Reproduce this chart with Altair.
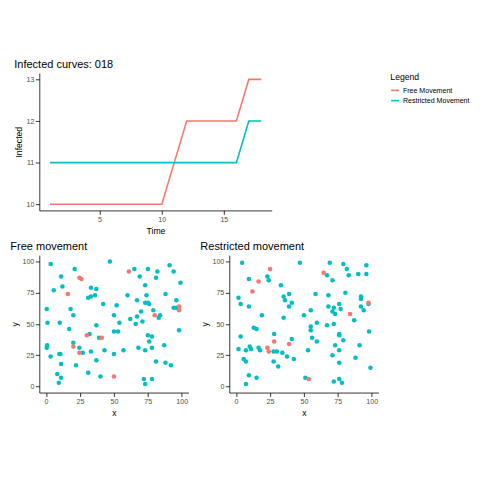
import altair as alt
import pandas as pd

# infected curves
time = list(range(1, 19))
free_infected = [10] * 10 + [11] + [12] * 5 + [13, 13]
restricted_infected = [11] * 16 + [12, 12]

# free movement scatter
free_x = [3.3, 0.4, 1, 0.7, 0.4, 3.3, 5.6, 11, 12, 10, 9.7, 10.5, 11, 8.2, 9.3, 11, 21, 17, 18, 20, 20, 24.5, 27, 22,
          31, 33, 36, 33, 37, 37, 39, 32, 33, 37, 31, 40, 42, 43, 47, 50, 50, 52, 53, 54, 50, 57, 60, 62, 65, 66, 67,
          67, 69, 70, 71, 68, 73, 74, 73, 75, 76, 75, 75, 76, 78, 78, 79, 73, 72, 73, 78, 81, 82, 83, 84, 81, 88, 87,
          88, 92, 91, 94, 94, 96, 96, 98, 99,
          16, 24.5, 26, 20, 24.5, 30, 41, 50, 61, 80, 98, 98]
free_y = [98, 62, 51, 33, 31, 24, 77, 88, 80, 51, 26, 26, 18, 10, 3, 7, 94, 46, 62, 57, 35, 31, 27, 17,
          71, 72, 73, 79, 78, 49, 39, 42, 28, 21, 11, 8, 66, 29, 100, 57, 44, 65, 44, 51, 26, 29, 73, 54, 94, 50, 56,
          69, 88, 60, 52, 31, 81, 73, 67, 67, 66, 94, 41, 36, 40, 31, 61, 29, 6, 2, 6, 87, 92, 55, 57, 20, 74, 33,
          19, 17, 97, 92, 63, 69, 63, 45, 83,
          74, 87, 86, 32, 27, 41, 39, 8, 92, 57, 64, 61]
free_status = ["Restricted Movement"] * 87 + ["Free Movement"] * 12

# restricted movement scatter
res_x = [4.4, 1.7, 3.3, 3.3, 1.7, 9.4, 9.4, 5.5, 7.2, 7.2, 10, 11, 9.4, 7.2, 13, 15, 16.5, 17.6, 15, 19, 23, 24,
         28, 27.6, 30, 27.6, 31, 33, 35, 36, 35, 34, 37.5, 39, 39, 41, 41, 42.5, 47, 50, 51, 53, 55, 55, 55, 56,
         58.5, 59.5, 59.5, 67, 68, 68, 67, 69, 71, 71, 72, 72, 73, 73, 71, 72, 76, 76, 76, 76, 76, 76, 77, 78, 79,
         79, 80.5, 81.6, 83, 87, 88, 90, 91, 92, 92, 92, 94, 96, 96, 97.6, 98, 99,
         12, 16.5, 25, 23, 24, 28, 39, 53.5, 64.5, 84, 97.6]
res_y = [99, 71, 66, 40, 30, 86, 64, 22, 20, 29, 32, 30, 9, 2, 47, 46, 31, 29, 7, 57, 88, 85,
         42, 28, 28, 20, 16, 81, 72, 69, 55, 27, 24, 74, 64, 67, 38, 22, 99, 57, 7, 29, 61, 45, 48, 39,
         74, 51, 36, 89, 73, 64, 49, 99, 85, 60, 63, 50, 58, 33, 25, 4, 66, 41, 42, 29, 19, 6, 62, 3, 98,
         37, 75, 94, 89, 53, 23, 90, 33, 72, 70, 64, 61, 97, 90, 66, 44, 15,
         76, 84, 94, 31, 28, 36, 34, 6, 91, 58, 67]
res_status = ["Restricted Movement"] * 88 + ["Free Movement"] * 11

RED, TEAL = "#F8766D", "#00BFC4"
color_scale = alt.Scale(domain=["Free Movement", "Restricted Movement"], range=[RED, TEAL])

curves = pd.DataFrame({
    "Time": time * 2,
    "Infected": free_infected + restricted_infected,
    "Legend": ["Free Movement"] * 18 + ["Restricted Movement"] * 18,
})

top = alt.Chart(curves, title="Infected curves: 018").mark_line(strokeWidth=2).encode(
    x=alt.X("Time:Q", scale=alt.Scale(domain=[0.15, 18.85], nice=False),
            axis=alt.Axis(values=[5, 10, 15])),
    y=alt.Y("Infected:Q", scale=alt.Scale(domain=[9.85, 13.15], nice=False, zero=False),
            axis=alt.Axis(values=[10, 11, 12, 13], format="d")),
    color=alt.Color("Legend:N", scale=color_scale,
                    legend=alt.Legend(symbolType="stroke", symbolStrokeWidth=2, titleFontWeight="normal",
                                      titleFontSize=11, labelFontSize=9, offset=15, orient="right")),
).properties(width=296, height=175)


def scatter(x, y, status, title):
    df = pd.DataFrame({"x": x, "y": y, "status": status})
    return alt.Chart(df, title=title).mark_circle(size=34, opacity=1).encode(
        x=alt.X("x:Q", scale=alt.Scale(domain=[-5, 105], nice=False),
                axis=alt.Axis(values=[0, 25, 50, 75, 100])),
        y=alt.Y("y:Q", scale=alt.Scale(domain=[-5, 105], nice=False),
                axis=alt.Axis(values=[0, 25, 50, 75, 100])),
        color=alt.Color("status:N", scale=color_scale, legend=None),
    ).properties(width=190, height=175)


bottom = alt.hconcat(
    scatter(free_x, free_y, free_status, "Free movement"),
    scatter(res_x, res_y, res_status, "Restricted movement"),
    spacing=14,
)

chart = alt.vconcat(top, bottom, spacing=8).configure(
    font="Liberation Sans", padding=2,
).configure_view(stroke=None).configure_axis(
    grid=False, domainColor="black", tickColor="black", labelColor="#4d4d4d",
    labelFontSize=9, titleFontSize=11, titleFontWeight="normal", titleColor="black",
).configure_title(fontSize=14, fontWeight="normal", anchor="start", offset=4)

chart.save("out.html", embed_options={"renderer": "svg", "actions": False})
